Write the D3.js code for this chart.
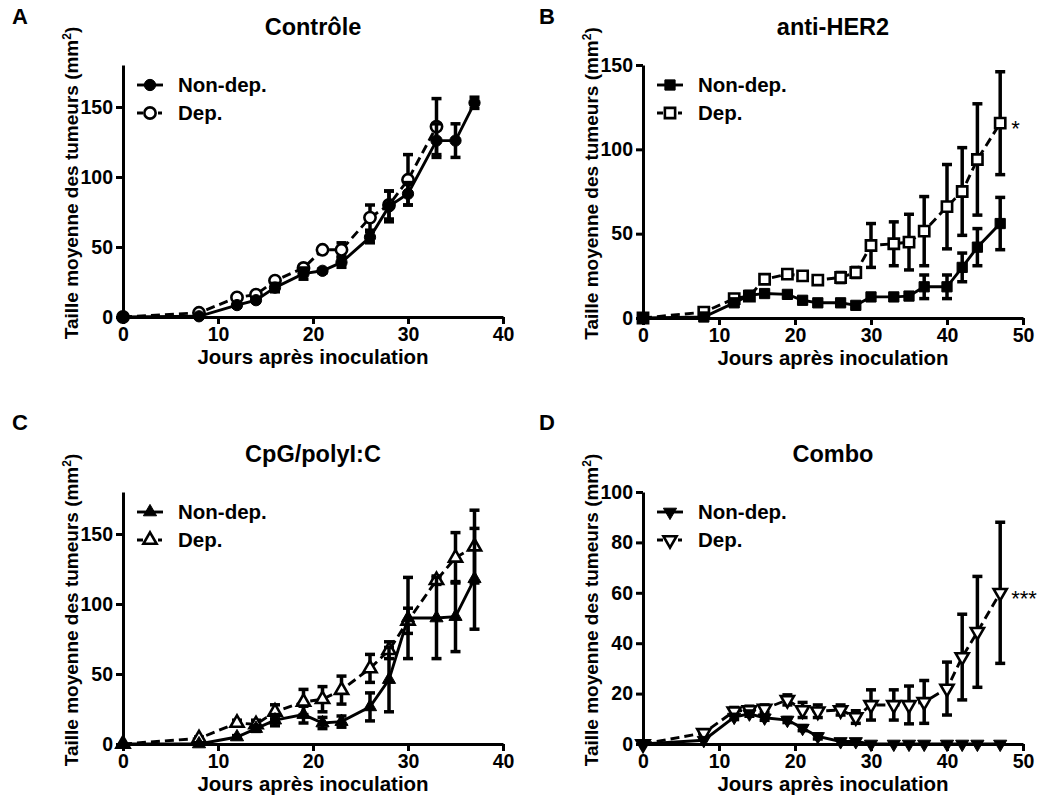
<!DOCTYPE html>
<html>
<head>
<meta charset="utf-8">
<script src="https://d3js.org/d3.v7.min.js"></script>
<style>
  body { margin: 0; background: #fff; }
  svg text { font-family: "Liberation Sans", Arial, sans-serif; font-weight: bold; fill: #000; }
</style>
</head>
<body>
<div id="chart"></div>
<script>
// ---- data (mean tumour area, mm2) ----
var daysCtrlNon = [0, 8, 12, 14, 16, 19, 21, 23, 26, 28, 30, 33, 35, 37];
var ctrlNon     = [0, 0.5, 8.5, 12, 21, 31, 33, 39, 57, 79, 88, 126, 126, 153];
var ctrlNonErr  = [0, 0.5, 1.5, 1.5, 3, 4, 1.5, 3.5, 4, 11, 8, 12, 12, 4];
var daysCtrlDep = [0, 8, 12, 14, 16, 19, 21, 23, 26, 28, 30, 33];
var ctrlDep     = [0, 3, 14, 16, 26, 35, 48, 48, 71, 80, 98, 136];
var ctrlDepErr  = [0, 0.5, 1, 1, 2, 2, 1.5, 5, 9, 10, 18, 20];

var daysHer   = [0, 8, 12, 14, 16, 19, 21, 23, 26, 28, 30, 33, 35, 37, 40, 42, 44, 47];
var herNon    = [0, 0.6, 9, 13.5, 14.5, 14, 10.5, 9, 9, 7.5, 12.5, 12.5, 13, 18.5, 18.5, 30, 42, 56];
var herNonErr = [0, 0.5, 1, 1.5, 1.5, 1.5, 1.5, 1, 1.5, 1.5, 1.5, 1.5, 1.5, 7, 7, 8.5, 11, 15.5];
var herDep    = [0, 3.5, 11.5, 13, 23, 26, 25, 22.5, 24, 27, 43, 44, 45, 51.5, 66, 75, 94, 115.5];
var herDepErr = [0, 1, 1.5, 1.5, 2, 2, 2, 2, 3, 3, 13, 13, 16.5, 20.5, 25, 26, 33, 30.5];

var daysCpg   = [0, 8, 12, 14, 16, 19, 21, 23, 26, 28, 30, 33, 35, 37];
var cpgNon    = [0, 0, 5, 11, 17, 21, 15, 16, 26.5, 46, 90, 90, 91, 118];
var cpgNonErr = [0, 0, 1, 2, 4, 6, 4, 4, 10, 23, 29, 29, 25, 36];
var cpgDep    = [0, 4, 15, 14, 23, 30, 32, 38.5, 54, 67, 88, 117, 133, 141];
var cpgDepErr = [0, 1, 2, 3, 5, 9, 9, 10, 10, 6, 9, 3, 18, 26];

var daysCombo   = [0, 8, 12, 14, 16, 19, 21, 23, 26, 28, 30, 33, 35, 37, 40, 42, 44, 47];
var comboNon    = [0, 1.5, 10.7, 12, 10.4, 9.5, 6.3, 3, 1, 1, 0, 0, 0, 0, 0, 0, 0, 0];
var comboNonErr = [0, 0.5, 1, 1, 1, 1, 1, 1, 0.5, 0.5, 0, 0, 0, 0, 0, 0, 0, 0];
var comboDep    = [0, 4.4, 13, 13.5, 14, 17.5, 13.5, 13, 13.5, 10.7, 15.5, 15.5, 15.5, 16.7, 22, 34.5, 44.5, 60];
var comboDepErr = [0, 1, 1.5, 1.5, 1.5, 2, 3, 2.5, 2, 2.5, 6, 6, 7.5, 8.5, 10.5, 17, 22, 28];

var xTicks40 = [0, 10, 20, 30, 40];
var xTicks50 = [0, 10, 20, 30, 40, 50];
var seriesNames = ["Non-dep.", "Dep."];

function zip(days, vals, errs) {
    return days.map(function(d, i) { return {day: d, v: vals[i], e: errs[i]}; });
}

var panels = [
    {letter: "A", letterX: 12, letterY: 24, title: "Contrôle", sym: "circle", x0: 123, x1: 503, yTop: 65, yBot: 317,
     xMax: 40, yMax: 180, xTicks: xTicks40, yTicks: [0, 50, 100, 150],
     non: zip(daysCtrlNon, ctrlNon, ctrlNonErr), dep: zip(daysCtrlDep, ctrlDep, ctrlDepErr), mark: ""},
    {letter: "B", letterX: 539, letterY: 24, title: "anti-HER2", sym: "square", x0: 643, x1: 1023, yTop: 65, yBot: 318,
     xMax: 50, yMax: 150, xTicks: xTicks50, yTicks: [0, 50, 100, 150],
     non: zip(daysHer, herNon, herNonErr), dep: zip(daysHer, herDep, herDepErr), mark: "*"},
    {letter: "C", letterX: 12, letterY: 430, title: "CpG/polyI:C", sym: "triangle", x0: 123, x1: 503, yTop: 492, yBot: 744,
     xMax: 40, yMax: 180, xTicks: xTicks40, yTicks: [0, 50, 100, 150],
     non: zip(daysCpg, cpgNon, cpgNonErr), dep: zip(daysCpg, cpgDep, cpgDepErr), mark: ""},
    {letter: "D", letterX: 539, letterY: 430, title: "Combo", sym: "triangleDown", x0: 643, x1: 1023, yTop: 492, yBot: 744,
     xMax: 50, yMax: 100, xTicks: xTicks50, yTicks: [0, 20, 40, 60, 80, 100],
     non: zip(daysCombo, comboNon, comboNonErr), dep: zip(daysCombo, comboDep, comboDepErr), mark: "***"}
];

var svg = d3.select("#chart").append("svg")
    .attr("width", 1045)
    .attr("height", 806);

// marker path per symbol name
function markerPath(name) {
    if (name == "circle") return d3.symbol().type(d3.symbolCircle).size(100)();
    if (name == "square") return d3.symbol().type(d3.symbolSquare).size(105)();
    return d3.symbol().type(d3.symbolTriangle).size(75)();
}
function markerRot(name) {
    return name == "triangleDown" ? " rotate(180)" : "";
}

function drawPanel(p) {
    var g = svg.append("g");
    var x = d3.scaleLinear().domain([0, p.xMax]).range([p.x0, p.x1]);
    var y = d3.scaleLinear().domain([0, p.yMax]).range([p.yBot, p.yTop]);

    // axes
    var xAxis = g.append("g")
        .attr("transform", "translate(0," + p.yBot + ")")
        .call(d3.axisBottom(x).tickValues(p.xTicks).tickSize(7).tickSizeOuter(0).tickPadding(3));
    var yAxis = g.append("g")
        .attr("transform", "translate(" + p.x0 + ",0)")
        .call(d3.axisLeft(y).tickValues(p.yTicks).tickSize(7).tickSizeOuter(0).tickPadding(3));
    [xAxis, yAxis].forEach(function(a) {
        a.selectAll("path, line").attr("stroke", "#000").attr("stroke-width", 3);
        a.selectAll("text").style("font-size", "19.5px").attr("fill", "#000");
    });

    // titles
    var cx = (p.x0 + p.x1) / 2;
    g.append("text").attr("x", cx).attr("y", p.yTop - 30)
        .attr("text-anchor", "middle").style("font-size", "23.5px").text(p.title);
    g.append("text").attr("x", cx).attr("y", p.yBot + 47)
        .attr("text-anchor", "middle").style("font-size", "20.5px").text("Jours après inoculation");
    var yt = g.append("text")
        .attr("transform", "translate(" + (p.x0 - 45) + "," + ((p.yTop + p.yBot) / 2 - 8) + ") rotate(-90)")
        .attr("text-anchor", "middle").style("font-size", "19px");
    yt.append("tspan").text("Taille moyenne des tumeurs (mm");
    yt.append("tspan").attr("dy", -7).style("font-size", "12px").text("2");
    yt.append("tspan").attr("dy", 7).text(")");
    g.append("text").attr("x", p.letterX).attr("y", p.letterY)
        .style("font-size", "22px").text(p.letter);

    var line = d3.line().x(function(d) { return x(d.day); }).y(function(d) { return y(d.v); });

    [p.dep, p.non].forEach(function(data, k) {
        var open = (k == 0);
        var bars = g.append("g");
        data.filter(function(d) { return d.e > 0.8; }).forEach(function(d) {
            var top = y(d.v + d.e), bot = y(d.v - d.e), xx = x(d.day);
            bars.append("line").attr("x1", xx).attr("x2", xx).attr("y1", top).attr("y2", bot)
                .attr("stroke", "#000").attr("stroke-width", 3.5);
            [top, bot].forEach(function(yy) {
                bars.append("line").attr("x1", xx - 5).attr("x2", xx + 5).attr("y1", yy).attr("y2", yy)
                    .attr("stroke", "#000").attr("stroke-width", 3.5);
            });
        });
        g.append("path").datum(data).attr("d", line)
            .attr("fill", "none").attr("stroke", "#000").attr("stroke-width", 2.9)
            .attr("stroke-dasharray", open ? "9,5" : null);
        g.selectAll(null).data(data).enter().append("path")
            .attr("d", markerPath(p.sym))
            .attr("transform", function(d) { return "translate(" + x(d.day) + "," + y(d.v) + ")" + markerRot(p.sym); })
            .attr("fill", open ? "#fff" : "#000")
            .attr("stroke", "#000").attr("stroke-width", open ? 2.6 : 1);
    });

    // legend
    [1, 0].forEach(function(k, i) {
        var open = (k == 0);
        var ly = p.yTop + 20 + i * 28;
        var lx = p.x0 + 14;
        g.append("line").attr("x1", lx).attr("x2", lx + 26).attr("y1", ly).attr("y2", ly)
            .attr("stroke", "#000").attr("stroke-width", 2.9)
            .attr("stroke-dasharray", open ? "6,15,4" : null);
        g.append("path").attr("d", markerPath(p.sym))
            .attr("transform", "translate(" + (lx + 13) + "," + ly + ")" + markerRot(p.sym))
            .attr("fill", open ? "#fff" : "#000").attr("stroke", "#000").attr("stroke-width", open ? 2.6 : 1);
        g.append("text").attr("x", lx + 41).attr("y", ly + 7)
            .style("font-size", "20.5px").text(seriesNames[i]);
    });

    // significance mark at last Dep point
    if (p.mark) {
        var last = p.dep[p.dep.length - 1];
        g.append("text").attr("x", x(last.day) + 11).attr("y", y(last.v) + 13)
            .style("font-size", "22px").style("font-weight", "normal").text(p.mark);
    }
}

panels.forEach(drawPanel);
</script>
</body>
</html>
